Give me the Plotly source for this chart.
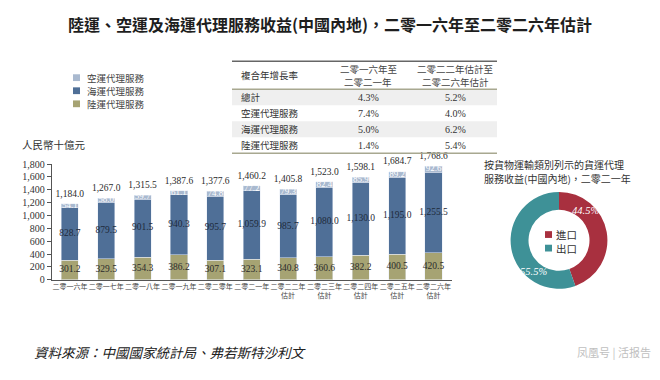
import plotly.graph_objects as go

# ---------------- data ----------------
years = ["二零一六年", "二零一七年", "二零一八年", "二零一九年", "二零二零年",
         "二零二一年", "二零二二年<br>估計", "二零二三年<br>估計", "二零二四年<br>估計",
         "二零二五年<br>估計", "二零二六年<br>估計"]
land = [301.2, 329.5, 354.3, 386.2, 307.1, 323.1, 340.8, 360.6, 382.2, 400.5, 420.5]
sea = [828.7, 879.5, 901.5, 940.3, 995.7, 1059.9, 985.7, 1080.0, 1130.0, 1195.0, 1255.5]
air = [54.1, 58.0, 59.7, 61.1, 74.8, 77.2, 79.3, 82.4, 85.9, 89.2, 92.6]
totals = [1184.0, 1267.0, 1315.5, 1387.6, 1377.6, 1460.2, 1405.8, 1523.0, 1598.1, 1684.7, 1768.6]
series_names = ["空運代理服務", "海運代理服務", "陸運代理服務"]

cagr_header = ["複合年增長率", ["二零一六年至", "二零二一年"], ["二零二二年估計至", "二零二六年估計"]]
cagr_rows = ["總計", "空運代理服務", "海運代理服務", "陸運代理服務"]
cagr_2016_2021 = ["4.3%", "7.4%", "5.0%", "1.4%"]
cagr_2022_2026 = ["5.2%", "4.0%", "6.2%", "5.4%"]

pie_labels = ["進口", "出口"]
pie_values = [44.5, 55.5]

title_text = "陸運、空運及海運代理服務收益(中國內地)，二零一六年至二零二六年估計"
y_title = "人民幣十億元"
pie_title_lines = ["按貨物運輸類別列示的貨運代理", "服務收益(中國內地)，二零二一年"]
source_text = "資料來源：中國國家統計局、弗若斯特沙利文"
watermark = "凤凰号 | 活报告"

# ---------------- style ----------------
W, H = 660, 380
C_LAND = "#a6a373"
C_SEA = "#4f6f97"
C_AIR = "#a9b9cf"
C_RED = "#a8303f"
C_TEAL = "#3e9197"
CJK = "Noto Sans CJK TC"
SERIF = "Liberation Serif"


def px(x):
    return x / W


def py(y):
    return 1 - y / H


fig = go.Figure()

# stacked bars
fig.add_trace(go.Bar(x=years, y=land, marker_color=C_LAND, name=series_names[2], width=0.47))
fig.add_trace(go.Bar(x=years, y=sea, marker_color=C_SEA, name=series_names[1], width=0.47))
fig.add_trace(go.Bar(x=years, y=air, marker_color=C_AIR, name=series_names[0], width=0.47))

# value labels via library scales
land_mid = [l / 2 for l in land]
sea_mid = [l + s / 2 for l, s in zip(land, sea)]
air_mid = [l + s + a / 2 for l, s, a in zip(land, sea, air)]
fig.add_trace(go.Scatter(x=years, y=land_mid, mode="text", text=[f"{v:,.1f}" for v in land],
                         textfont=dict(family=SERIF, size=9.5, color="#2b2b2b"),
                         hoverinfo="skip", cliponaxis=False))
fig.add_trace(go.Scatter(x=years, y=sea_mid, mode="text", text=[f"{v:,.1f}" for v in sea],
                         textfont=dict(family=SERIF, size=9.5, color="#1e2a3a"),
                         hoverinfo="skip", cliponaxis=False))
fig.add_trace(go.Scatter(x=years, y=air_mid, mode="text", text=[f"{v:,.1f}" for v in air],
                         textfont=dict(family=SERIF, size=9, color="#ffffff"),
                         hoverinfo="skip", cliponaxis=False))
fig.add_trace(go.Scatter(x=years, y=totals, mode="markers+text", text=[f"{v:,.1f}" for v in totals],
                         textposition="top center", marker=dict(size=6, opacity=0),
                         textfont=dict(family=SERIF, size=9.5, color="#2b2b2b"),
                         hoverinfo="skip", cliponaxis=False))

# donut
fig.add_trace(go.Pie(values=pie_values, labels=pie_labels, hole=0.63, sort=False,
                     direction="clockwise", rotation=0, textinfo="none",
                     marker=dict(colors=[C_RED, C_TEAL], line=dict(width=0)),
                     domain=dict(x=[px(509), px(609)], y=[py(292), py(192)]),
                     showlegend=False, hoverinfo="label+percent"))

fig.update_layout(
    width=W, height=H,
    margin=dict(l=0, r=0, t=0, b=0),
    paper_bgcolor="white", plot_bgcolor="white",
    barmode="stack", showlegend=False,
    xaxis=dict(domain=[px(51.7), px(451.7)], range=[-0.5, 10.5], showgrid=False,
               showline=True, linecolor="#555", linewidth=1, ticks="", tickangle=0,
               tickfont=dict(family=CJK, size=7, color="#444"), fixedrange=True),
    yaxis=dict(domain=[py(282.7), py(163.3)], range=[0, 1800], dtick=200, tickformat=",",
               showgrid=False, zeroline=False, showline=True, linecolor="#555", linewidth=1,
               ticks="outside", ticklen=4, tickcolor="#555",
               tickfont=dict(family=SERIF, size=10, color="#333"), fixedrange=True),
)

shapes = []
ann = []


def note(x, y, text, size, color, anchor="left", family=CJK, **kw):
    font = dict(family=family, size=size, color=color)
    for k in ("weight", "style"):
        if k in kw:
            font[k] = kw.pop(k)
    d = dict(xref="paper", yref="paper", x=px(x), y=py(y), text=text, showarrow=False,
             xanchor=anchor, yanchor="middle", font=font, borderpad=0)
    d.update(kw)
    ann.append(d)


def box(x0, x1, y0, y1, color, layer="above"):
    shapes.append(dict(type="rect", xref="paper", yref="paper", x0=px(x0), x1=px(x1),
                       y0=py(y1), y1=py(y0), fillcolor=color, line=dict(width=0), layer=layer))


def hline(x0, x1, y, color, width):
    shapes.append(dict(type="line", xref="paper", yref="paper", x0=px(x0), x1=px(x1),
                       y0=py(y), y1=py(y), line=dict(color=color, width=width)))


# title
note(330, 19, title_text, 16, "#1e1e1e", anchor="center", weight="bold")

# bar legend (custom, compact)
leg_y = [74, 87.5, 101]
leg_colors = [C_AIR, C_SEA, C_LAND]
for name, c, yy in zip(series_names, leg_colors, leg_y):
    box(73, 80, yy - 3.5, yy + 3.5, c)
    note(86, yy, name, 9.5, "#444")

# y-axis title
note(21, 143, y_title, 10.5, "#333")

# CAGR table
tx0, tx1 = 232, 497
row_y = [94.3, 110.8, 127.3, 143.8]
row_h = 16.5
for i, yy in enumerate(row_y):
    if i % 2 == 0:
        box(tx0, tx1, yy - row_h / 2, yy + row_h / 2, "#efefef", layer="below")
hline(tx0, tx1, 57, "#666", 1.5)
hline(tx0, tx1, 86, "#a8a890", 1.5)
hline(tx0, tx1, 152, "#a8a890", 1.5)

col_x = [240, 368, 455]
note(col_x[0], 71.5, cagr_header[0], 9.5, "#333")
for j in (1, 2):
    for line, yy in zip(cagr_header[j], [65, 78]):
        note(col_x[j], yy, line, 9.5, "#444", anchor="center")
for name, a, b, yy in zip(cagr_rows, cagr_2016_2021, cagr_2022_2026, row_y):
    note(col_x[0], yy, name, 9.5, "#333")
    note(col_x[1], yy, a, 10, "#333", anchor="center", family=SERIF)
    note(col_x[2], yy, b, 10, "#333", anchor="center", family=SERIF)

# donut title
for line, yy in zip(pie_title_lines, [164, 178.5]):
    note(483, yy, line, 10, "#333")

# donut percentage labels
pct_pos = [(585, 211), (533, 274)]
for v, (xx, yy) in zip(pie_values, pct_pos):
    note(xx, yy, f"{v}%", 10.5, "white", anchor="center", family=SERIF, style="italic")

# donut legend
for lab, c, yy in zip(pie_labels, [C_RED, C_TEAL], [236, 250]):
    box(545, 552, yy - 3.5, yy + 3.5, c)
    note(555, yy, lab, 10.5, "#333")

# source + watermark
note(33, 357, source_text, 13.5, "#222", style="italic")
note(652, 357, watermark, 11, "#c0c0c0", anchor="right")

fig.update_layout(shapes=shapes, annotations=ann)
fig.write_html("out.html", config={"displayModeBar": False},
               post_script="document.body.style.margin='0';document.body.style.overflow='hidden';")
